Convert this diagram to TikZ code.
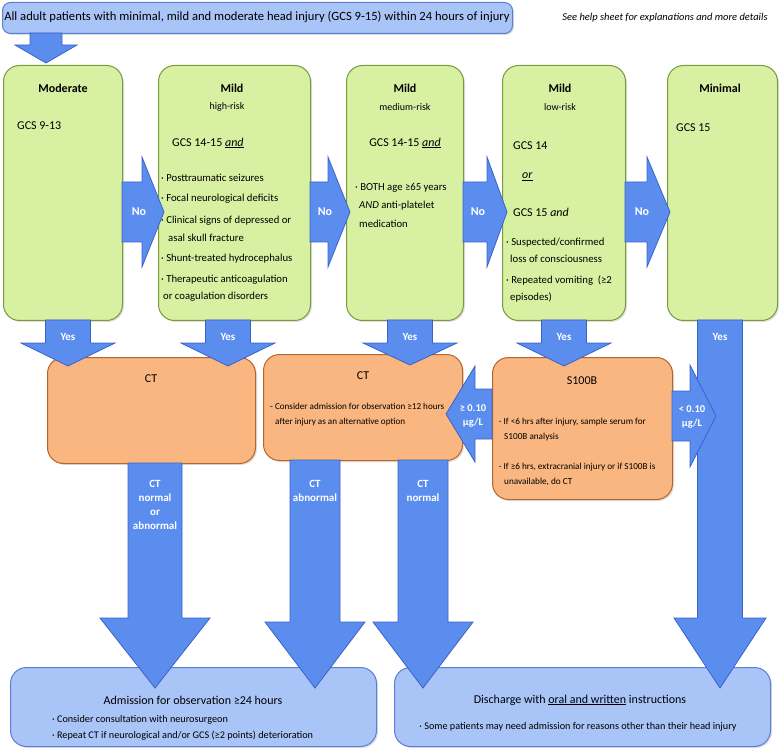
\documentclass[tikz,border=0pt]{standalone}
\usepackage{fontspec}
\setmainfont{Carlito}
\usetikzlibrary{shadows}
\definecolor{gfill}{HTML}{D7F0A2}
\definecolor{gline}{HTML}{7A9A40}
\definecolor{ofill}{HTML}{F9B680}
\definecolor{oline}{HTML}{B8652A}
\definecolor{bfill}{HTML}{5B8DEF}
\definecolor{bline}{HTML}{3A62C6}
\definecolor{lbfill}{HTML}{A9C4F7}
\definecolor{lbline}{HTML}{5A7ED2}
\newcommand{\BlkDown}[6]{\draw[blk] ({#1-#5},#2) -- ({#1+#5},#2) -- ({#1+#5},#3) -- ({#1+#6},#3) -- (#1,#4) -- ({#1-#6},#3) -- ({#1-#5},#3) -- cycle;}
\newcommand{\BlkH}[6]{\draw[blk] (#2,{#1-#5}) -- (#3,{#1-#5}) -- (#3,{#1-#6}) -- (#4,#1) -- (#3,{#1+#6}) -- (#3,{#1+#5}) -- (#2,{#1+#5}) -- cycle;}
\tikzset{
  boxbase/.style={rounded corners=16pt, line width=1pt, inner sep=0pt, anchor=north west,
    drop shadow={shadow xshift=1.5pt,shadow yshift=-1.5pt,opacity=0.25}},
  greenbox/.style={boxbase, fill=gfill, draw=gline},
  orangebox/.style={boxbase, fill=ofill, draw=oline},
  bluebox/.style={boxbase, fill=lbfill, draw=lbline},
  blk/.style={fill=bfill, draw=bline, line width=0.8pt, line join=miter},
  txt/.style={inner sep=0pt, text=black},
  ttl/.style={txt, font=\bfseries\fontsize{12}{14}\selectfont},
  sub/.style={txt, font=\fontsize{10}{12}\selectfont},
  gcs/.style={txt, font=\fontsize{12}{14}\selectfont},
  bul/.style={txt, font=\fontsize{10.7}{12}\selectfont, anchor=west},
  sbul/.style={txt, font=\fontsize{9.2}{11}\selectfont, anchor=west},
  bbul/.style={txt, font=\fontsize{10.2}{12}\selectfont, anchor=west},
  lbl/.style={inner sep=0pt, text=white, font=\bfseries\fontsize{11}{14}\selectfont, align=center},
  nolbl/.style={inner sep=0pt, text=white, font=\bfseries\fontsize{12}{14}\selectfont}
}
\begin{document}
\begin{tikzpicture}[x=1pt,y=-1pt]
\useasboundingbox (0,0) rectangle (779,751);
% ---- boxes
\node[bluebox, minimum width=510pt, minimum height=31pt, rounded corners=8pt] (banner) at (2,2) {};
\node[greenbox, minimum width=119pt, minimum height=255pt] (b1) at (3,65) {};
\node[greenbox, minimum width=152pt, minimum height=255pt] (b2) at (158,65) {};
\node[greenbox, minimum width=117pt, minimum height=255pt] (b3) at (346,65) {};
\node[greenbox, minimum width=123pt, minimum height=255pt] (b4) at (502,65) {};
\node[greenbox, minimum width=110pt, minimum height=255pt] (b5) at (667,65) {};
\node[orangebox, minimum width=208pt, minimum height=106pt] (ct1) at (47,357) {};
\node[orangebox, minimum width=199pt, minimum height=106pt] (ct2) at (263,354) {};
\node[orangebox, minimum width=180pt, minimum height=142pt] (s100) at (492,357) {};
\node[bluebox, minimum width=366pt, minimum height=79pt] (adm) at (10,667) {};
\node[bluebox, minimum width=376pt, minimum height=79pt] (dis) at (394,667) {};
% ---- arrows
\BlkDown{46}{33}{45}{63}{16}{31}
\BlkH{212}{122}{142}{164}{30}{55}
\BlkH{212}{310}{328}{350}{30}{55}
\BlkH{212}{463}{487}{507}{30}{55}
\BlkH{212}{625}{647}{670}{30}{55}
\BlkDown{68}{320}{343}{366}{22.5}{47}
\BlkDown{228}{320}{343}{366}{22.5}{47}
\BlkDown{410}{320}{343}{365}{22.5}{47}
\BlkDown{564}{320}{343}{366}{22.5}{47}
\BlkDown{720}{320}{618}{688}{22.5}{46}
\BlkDown{155}{463}{618}{688}{27}{55}
\BlkDown{315}{460}{622}{688}{25}{50}
\BlkDown{423}{460}{622}{688}{25}{50}
\BlkH{414}{492}{475}{446}{25}{48}
\BlkH{416}{672}{690}{716}{25}{51}
% ---- banner texts
\node[txt, font=\fontsize{12.6}{14}\selectfont] (bannertxt) at (257,17) {All adult patients with minimal, mild and moderate head injury (GCS 9-15) within 24 hours of injury};
\node[txt, font=\itshape\fontsize{10.5}{12}\selectfont] (help) at (665,18) {See help sheet for explanations and more details};
% ---- box 1
\node[ttl] (b1t) at (63,88) {Moderate};
\node[gcs, anchor=west] (b1g) at (17,126) {GCS 9-13};
% ---- box 2
\node[ttl] (b2t) at (232,88) {Mild};
\node[sub] (b2s) at (227,107) {high-risk};
\node[gcs, anchor=west] (b2g) at (172,143) {GCS 14-15 \underline{\textit{and}}};
\node[bul] (b2a) at (161,178) {· Posttraumatic seizures};
\node[bul] (b2b) at (161,199) {· Focal neurological deficits};
\node[bul] (b2c) at (161,221) {· Clinical signs of depressed or};
\node[bul] (b2d) at (168,238) {asal skull fracture};
\node[bul] (b2e) at (161,259) {· Shunt-treated hydrocephalus};
\node[bul] (b2f) at (161,280) {· Therapeutic anticoagulation};
\node[bul] (b2h) at (163,297) {or coagulation disorders};
% ---- box 3
\node[ttl] (b3t) at (405,88) {Mild};
\node[sub] (b3s) at (405,107) {medium-risk};
\node[gcs] (b3g) at (405,143) {GCS 14-15 \underline{\textit{and}}};
\node[bul] (b3a) at (355,188) {· BOTH age ≥65 years};
\node[bul] (b3b) at (359,206) {\textit{AND} anti-platelet};
\node[bul] (b3c) at (359,224) {medication};
% ---- box 4
\node[ttl] (b4t) at (560,88) {Mild};
\node[sub] (b4s) at (560,107) {low-risk};
\node[gcs, anchor=west] (b4g) at (513,146) {GCS 14};
\node[gcs, anchor=west] (b4o) at (522,177) {\underline{\textit{or}}};
\node[gcs, anchor=west] (b4h) at (513,212) {GCS 15 \textit{and}};
\node[bul] (b4a) at (506,243) {· Suspected/confirmed};
\node[bul] (b4b) at (510,259) {loss of consciousness};
\node[bul] (b4c) at (506,281) {· Repeated vomiting\ \ (≥2};
\node[bul] (b4d) at (510,297) {episodes)};
% ---- box 5
\node[ttl] (b5t) at (720,88) {Minimal};
\node[gcs, anchor=west] (b5g) at (676,128) {GCS 15};
% ---- orange boxes
\node[gcs] (ct1t) at (151,379) {CT};
\node[gcs] (ct2t) at (363,376) {CT};
\node[sbul, font=\fontsize{9.1}{11}\selectfont] (ct2a) at (270,406) {- Consider admission for observation ≥12 hours};
\node[sbul, font=\fontsize{9.1}{11}\selectfont] (ct2b) at (275,422) {after injury as an alternative option};
\node[gcs] (s100t) at (582,381) {S100B};
\node[sbul] (s1a) at (499,422) {· If <6 hrs after injury, sample serum for};
\node[sbul] (s1b) at (504,437) {S100B analysis};
\node[sbul] (s1c) at (499,467) {· If ≥6 hrs, extracranial injury or if S100B is};
\node[sbul] (s1d) at (504,482) {unavailable, do CT};
% ---- bottom boxes
\node[gcs] (admt) at (193,700) {Admission for observation ≥24 hours};
\node[bbul] (adma) at (52,720) {· Consider consultation with neurosurgeon};
\node[bbul] (admb) at (52,736) {· Repeat CT if neurological and/or GCS (≥2 points) deterioration};
\node[gcs] (dist) at (580,700) {Discharge with \underline{oral and written} instructions};
\node[bbul, anchor=center] (disa) at (578,727) {· Some patients may need admission for reasons other than their head injury};
% ---- arrow labels
\node[nolbl] (no1) at (139,212) {No};
\node[nolbl] (no2) at (325,212) {No};
\node[nolbl] (no3) at (478,212) {No};
\node[nolbl] (no4) at (642,212) {No};
\node[lbl] (y1) at (68,337) {Yes};
\node[lbl] (y2) at (228,337) {Yes};
\node[lbl] (y3) at (410,337) {Yes};
\node[lbl] (y4) at (564,337) {Yes};
\node[lbl] (y5) at (720,337) {Yes};
\node[lbl] (l1) at (155,505) {CT\\normal\\or\\abnormal};
\node[lbl] (l2) at (315,491) {CT\\abnormal};
\node[lbl] (l3) at (423,491) {CT\\normal};
\node[lbl, font=\bfseries\fontsize{10.5}{14}\selectfont] (l4) at (473,416) {≥ 0.10\\µg/L};
\node[lbl, font=\bfseries\fontsize{10.5}{14}\selectfont] (l5) at (692,417) {< 0.10\\µg/L};
\end{tikzpicture}
\end{document}
